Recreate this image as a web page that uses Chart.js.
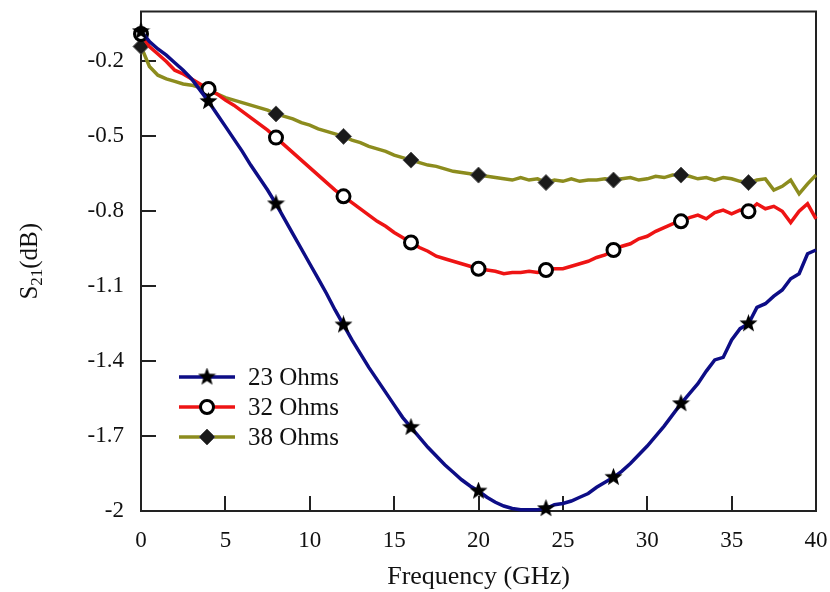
<!DOCTYPE html>
<html>
<head>
<meta charset="utf-8">
<script src="https://cdn.jsdelivr.net/npm/chart.js@4"></script>
<style>
  html, body { margin: 0; background: #fff; }
</style>
</head>
<body>
<canvas id="c" width="830" height="592"></canvas>
<script>
// frequency points (GHz)
const freq = [
  0, 0.5, 1, 1.5, 2, 2.5, 3, 3.5, 4, 4.5, 5, 5.5, 6, 6.5, 7, 7.5, 8, 8.5, 9, 9.5,
  10, 10.5, 11, 11.5, 12, 12.5, 13, 13.5, 14, 14.5, 15, 15.5, 16, 16.5, 17, 17.5, 18, 18.5, 19, 19.5,
  20, 20.5, 21, 21.5, 22, 22.5, 23, 23.5, 24, 24.5, 25, 25.5, 26, 26.5, 27, 27.5, 28, 28.5, 29, 29.5,
  30, 30.5, 31, 31.5, 32, 32.5, 33, 33.5, 34, 34.5, 35, 35.5, 36, 36.5, 37, 37.5, 38, 38.5, 39, 39.5, 40
];

// S21 (dB)
const ohms23 = [
  -0.08, -0.12, -0.15, -0.175, -0.205, -0.235, -0.27, -0.315, -0.36,
  -0.41, -0.46, -0.51, -0.56, -0.615, -0.665, -0.715, -0.77,
  -0.83, -0.89, -0.95, -1.01, -1.07, -1.13, -1.195, -1.255,
  -1.315, -1.37, -1.425, -1.475, -1.525, -1.575, -1.625, -1.665,
  -1.705, -1.745, -1.78, -1.815, -1.845, -1.875, -1.9, -1.92,
  -1.945, -1.965, -1.98, -1.99, -1.995, -1.995, -1.995, -1.99,
  -1.975, -1.97, -1.96, -1.945, -1.93, -1.905, -1.885, -1.865,
  -1.84, -1.81, -1.775, -1.74, -1.70, -1.66, -1.615, -1.57,
  -1.53, -1.49, -1.44, -1.395, -1.385, -1.315, -1.27, -1.25,
  -1.185, -1.17, -1.14, -1.115, -1.07, -1.05, -0.97, -0.955
];
const ohms32 = [
  -0.09, -0.14, -0.17, -0.2, -0.235, -0.25, -0.27, -0.29, -0.31,
  -0.33, -0.355, -0.375, -0.40, -0.425, -0.45, -0.475, -0.505,
  -0.535, -0.565, -0.595, -0.625, -0.655, -0.685, -0.715, -0.74,
  -0.765, -0.79, -0.815, -0.84, -0.86, -0.885, -0.905, -0.925,
  -0.945, -0.96, -0.98, -0.99, -1.0, -1.01, -1.02, -1.03,
  -1.035, -1.04, -1.05, -1.045, -1.045, -1.04, -1.045, -1.035,
  -1.03, -1.03, -1.02, -1.01, -1.0, -0.985, -0.975, -0.955,
  -0.94, -0.93, -0.91, -0.9, -0.88, -0.865, -0.85, -0.84,
  -0.825, -0.815, -0.83, -0.805, -0.795, -0.81, -0.795, -0.80,
  -0.77, -0.79, -0.78, -0.80, -0.845, -0.80, -0.77, -0.83
];
const ohms38 = [
  -0.14, -0.22, -0.255, -0.27, -0.28, -0.29, -0.295, -0.305, -0.315,
  -0.33, -0.345, -0.355, -0.365, -0.375, -0.385, -0.395, -0.41,
  -0.42, -0.43, -0.445, -0.455, -0.47, -0.48, -0.49, -0.50,
  -0.515, -0.525, -0.54, -0.55, -0.56, -0.575, -0.585, -0.595,
  -0.605, -0.615, -0.62, -0.63, -0.64, -0.645, -0.65, -0.655,
  -0.66, -0.665, -0.67, -0.675, -0.665, -0.675, -0.67, -0.685,
  -0.675, -0.68, -0.67, -0.68, -0.675, -0.675, -0.67, -0.675,
  -0.67, -0.665, -0.675, -0.67, -0.66, -0.665, -0.655, -0.655,
  -0.66, -0.67, -0.665, -0.675, -0.665, -0.67, -0.68, -0.685,
  -0.675, -0.67, -0.715, -0.70, -0.675, -0.73, -0.69, -0.655
];

const seriesNames = ['23 Ohms', '32 Ohms', '38 Ohms'];
const xTicks = [0, 5, 10, 15, 20, 25, 30, 35, 40];
const yTicks = [-2, -1.7, -1.4, -1.1, -0.8, -0.5, -0.2];

const BLUE = '#0d0d86', RED = '#ee1414', OLIVE = '#8c8c1e';
const SERIF = '"Liberation Serif", "Times New Roman", serif';

// filled five point star used as marker
function makeStar(size) {
  const c = document.createElement('canvas');
  c.width = c.height = size;
  const g = c.getContext('2d');
  g.fillStyle = '#000';
  g.beginPath();
  for (let i = 0; i < 10; i++) {
    const r = i % 2 ? size * 0.21 : size * 0.5;
    const a = -Math.PI / 2 + i * Math.PI / 5;
    const px = size / 2 + r * Math.cos(a), py = size / 2 + r * Math.sin(a);
    i ? g.lineTo(px, py) : g.moveTo(px, py);
  }
  g.closePath();
  g.fill();
  return c;
}
const star = makeStar(19);

const toPts = arr => freq.map((f, i) => ({ x: f, y: arr[i] }));
const markerAt = r => ctx => (ctx.raw && ctx.raw.x % 4 === 0 && ctx.raw.x < 40) ? r : 0;

function drawMarker(ctx, kind, x, y) {
  ctx.save();
  if (kind === 0) {
    ctx.drawImage(star, x - star.width / 2, y - star.height / 2);
  } else if (kind === 1) {
    ctx.beginPath();
    ctx.arc(x, y, 6.5, 0, Math.PI * 2);
    ctx.fillStyle = '#fff';
    ctx.fill();
    ctx.lineWidth = 3;
    ctx.strokeStyle = '#000';
    ctx.stroke();
  } else {
    ctx.beginPath();
    ctx.moveTo(x, y - 8); ctx.lineTo(x + 8, y); ctx.lineTo(x, y + 8); ctx.lineTo(x - 8, y);
    ctx.closePath();
    ctx.fillStyle = '#1a1a1a';
    ctx.fill();
    ctx.lineWidth = 1;
    ctx.strokeStyle = '#555';
    ctx.stroke();
  }
  ctx.restore();
}

const framePlugin = {
  id: 'frame',
  beforeDatasetsDraw(chart) {
    const ctx = chart.ctx;
    const { left, top, right, bottom } = chart.chartArea;
    const xs = chart.scales.x, ys = chart.scales.y;
    ctx.save();
    ctx.strokeStyle = '#222';
    ctx.lineWidth = 2;
    ctx.strokeRect(left, top, right - left, bottom - top);
    ctx.beginPath();
    xs.ticks.forEach(t => {
      const px = Math.round(xs.getPixelForValue(t.value));
      ctx.moveTo(px, bottom); ctx.lineTo(px, bottom - 15);
    });
    ys.ticks.forEach(t => {
      const py = Math.round(ys.getPixelForValue(t.value));
      ctx.moveTo(left, py); ctx.lineTo(left + 15, py);
    });
    ctx.stroke();
    ctx.restore();
  },
  afterDraw(chart) {
    const ctx = chart.ctx;
    const { left, right, top, bottom } = chart.chartArea;
    ctx.save();
    ctx.fillStyle = '#111';

    // x title
    ctx.font = '26px ' + SERIF;
    ctx.textAlign = 'center';
    ctx.textBaseline = 'middle';
    ctx.fillText('Frequency (GHz)', (left + right) / 2, 577);

    // y title with subscript
    ctx.translate(29, (top + bottom) / 2);
    ctx.rotate(-Math.PI / 2);
    ctx.textAlign = 'left';
    ctx.textBaseline = 'alphabetic';
    const big = '25px ' + SERIF, small = '17px ' + SERIF;
    ctx.font = big; const wS = ctx.measureText('S').width, wT = ctx.measureText('(dB)').width;
    ctx.font = small; const wSub = ctx.measureText('21').width;
    let x0 = -(wS + wSub + wT) / 2;
    ctx.font = big; ctx.fillText('S', x0, 8);
    ctx.font = small; ctx.fillText('21', x0 + wS, 13);
    ctx.font = big; ctx.fillText('(dB)', x0 + wS + wSub, 8);
    ctx.restore();

    // legend
    ctx.save();
    const colors = [BLUE, RED, OLIVE];
    const rowsY = [377, 407, 437];
    ctx.font = '25px ' + SERIF;
    ctx.textBaseline = 'middle';
    ctx.fillStyle = '#111';
    seriesNames.forEach((name, i) => {
      const y = rowsY[i];
      ctx.strokeStyle = colors[i];
      ctx.lineWidth = 3.5;
      ctx.beginPath(); ctx.moveTo(179, y); ctx.lineTo(235, y); ctx.stroke();
      drawMarker(ctx, i, 207, y);
      ctx.fillText(name, 248, y + 1);
    });
    ctx.restore();
  }
};

new Chart(document.getElementById('c'), {
  type: 'line',
  data: {
    datasets: [
      {
        label: seriesNames[0],
        data: toPts(ohms23),
        borderColor: BLUE,
        borderWidth: 3.5,
        pointStyle: star,
        pointRadius: markerAt(8),
        tension: 0,
        clip: false
      },
      {
        label: seriesNames[1],
        data: toPts(ohms32),
        borderColor: RED,
        borderWidth: 3.5,
        pointStyle: 'circle',
        pointRadius: markerAt(6.5),
        pointBackgroundColor: '#fff',
        pointBorderColor: '#000',
        pointBorderWidth: 3,
        tension: 0,
        clip: false
      },
      {
        label: seriesNames[2],
        data: toPts(ohms38),
        borderColor: OLIVE,
        borderWidth: 3.5,
        pointStyle: 'rectRot',
        pointRadius: markerAt(8),
        pointBackgroundColor: '#1a1a1a',
        pointBorderColor: '#555',
        pointBorderWidth: 1,
        tension: 0,
        clip: false
      }
    ]
  },
  options: {
    responsive: false,
    animation: false,
    devicePixelRatio: 1,
    events: [],
    layout: { padding: { top: 8, right: 14, left: 0, bottom: 0 } },
    plugins: { legend: { display: false }, tooltip: { enabled: false } },
    scales: {
      x: {
        type: 'linear',
        min: 0,
        max: 40,
        afterBuildTicks: s => { s.ticks = xTicks.map(v => ({ value: v })); },
        afterFit: s => { s.height = 81; s.paddingLeft = 0; s.paddingRight = 0; },
        grid: { display: false, drawTicks: false },
        border: { display: false },
        ticks: {
          padding: 16,
          color: '#111',
          font: { family: SERIF, size: 23 },
          maxRotation: 0,
          callback: v => String(v)
        }
      },
      y: {
        min: -2,
        max: 0,
        afterBuildTicks: s => { s.ticks = yTicks.map(v => ({ value: v })); },
        afterFit: s => { s.width = 141; s.paddingTop = 0; s.paddingBottom = 0; },
        grid: { display: false, drawTicks: false },
        border: { display: false },
        ticks: {
          padding: 17,
          color: '#111',
          font: { family: SERIF, size: 23 },
          callback: v => String(v)
        }
      }
    }
  },
  plugins: [framePlugin]
});
</script>
</body>
</html>
